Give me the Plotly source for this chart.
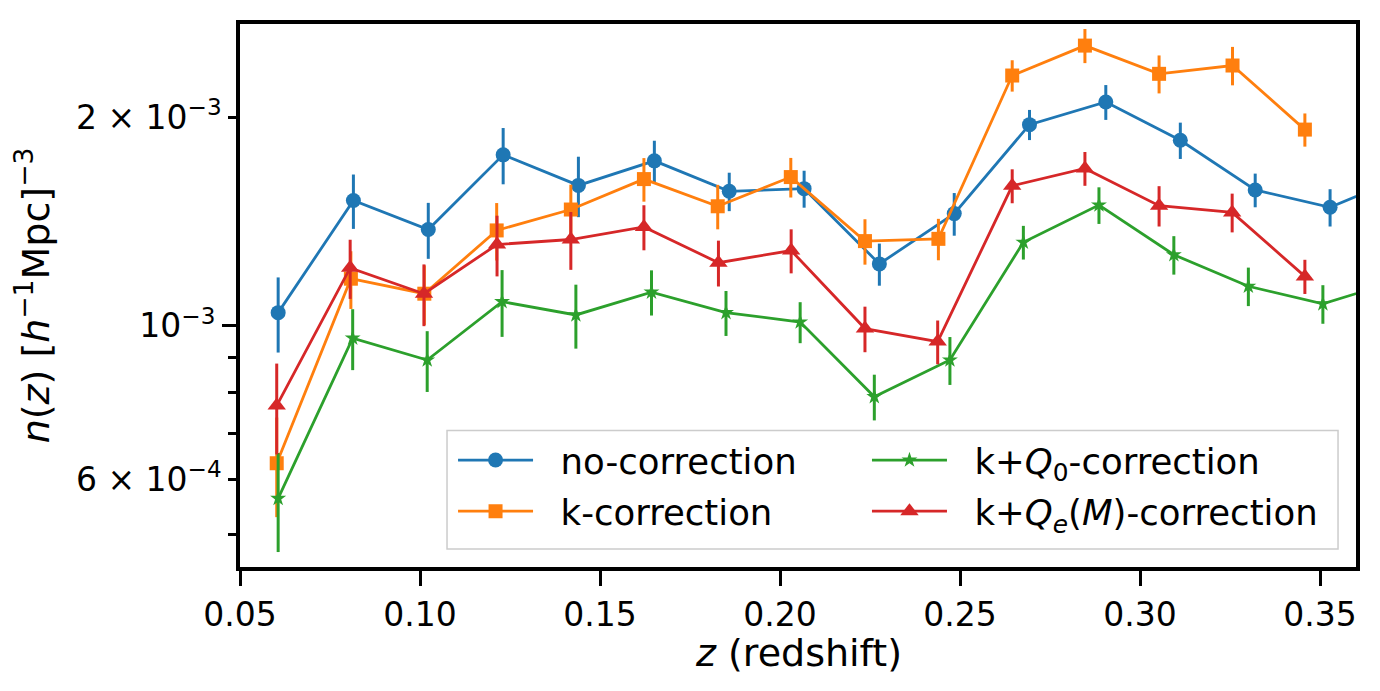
import plotly.graph_objects as go

# ---------------------------------------------------------------------------
# Data: redshift bin centres, n(z) and 1-sigma errors
# ---------------------------------------------------------------------------
z_none = [0.0606, 0.0815, 0.1023, 0.1231, 0.1440, 0.1651, 0.1859, 0.2067,
          0.2276, 0.2484, 0.2693, 0.2905, 0.3112, 0.3320, 0.3528, 0.3736]
n_none = [1.045e-3, 1.518e-3, 1.378e-3, 1.767e-3, 1.596e-3, 1.732e-3, 1.565e-3, 1.579e-3,
          1.229e-3, 1.453e-3, 1.954e-3, 2.107e-3, 1.855e-3, 1.572e-3, 1.484e-3, 1.647e-3]
err_none = [0.130e-3, 0.137e-3, 0.128e-3, 0.165e-3, 0.160e-3, 0.120e-3, 0.100e-3, 0.097e-3,
            0.086e-3, 0.103e-3, 0.098e-3, 0.122e-3, 0.112e-3, 0.088e-3, 0.092e-3, 0.090e-3]

z_k = [0.0602, 0.0808, 0.1012, 0.1213, 0.1419, 0.1622, 0.1827, 0.2030,
       0.2236, 0.2440, 0.2645, 0.2847, 0.3053, 0.3257, 0.3458]
n_k = [0.633e-3, 1.170e-3, 1.113e-3, 1.374e-3, 1.473e-3, 1.630e-3, 1.489e-3, 1.641e-3,
       1.326e-3, 1.336e-3, 2.301e-3, 2.542e-3, 2.314e-3, 2.379e-3, 1.922e-3]
err_k = [0.104e-3, 0.112e-3, 0.110e-3, 0.131e-3, 0.127e-3, 0.118e-3, 0.110e-3, 0.108e-3,
         0.100e-3, 0.092e-3, 0.120e-3, 0.144e-3, 0.146e-3, 0.152e-3, 0.106e-3]

z_kq0 = [0.0606, 0.0813, 0.1020, 0.1228, 0.1433, 0.1643, 0.1850, 0.2056,
         0.2262, 0.2472, 0.2676, 0.2886, 0.3094, 0.3301, 0.3508, 0.3715]
n_kq0 = [0.563e-3, 0.960e-3, 0.8925e-3, 1.084e-3, 1.037e-3, 1.119e-3, 1.045e-3, 1.013e-3,
         0.790e-3, 0.8925e-3, 1.321e-3, 1.495e-3, 1.267e-3, 1.141e-3, 1.076e-3, 1.162e-3]
err_kq0 = [0.092e-3, 0.097e-3, 0.090e-3, 0.120e-3, 0.110e-3, 0.084e-3, 0.078e-3, 0.069e-3,
           0.060e-3, 0.071e-3, 0.074e-3, 0.091e-3, 0.081e-3, 0.073e-3, 0.069e-3, 0.070e-3]

z_kqe = [0.0602, 0.0806, 0.1011, 0.1214, 0.1419, 0.1622, 0.1829, 0.2031,
         0.2236, 0.2438, 0.2645, 0.2847, 0.3053, 0.3256, 0.3458]
n_kqe = [0.767e-3, 1.213e-3, 1.113e-3, 1.311e-3, 1.333e-3, 1.390e-3, 1.234e-3, 1.285e-3,
         0.991e-3, 0.949e-3, 1.594e-3, 1.689e-3, 1.492e-3, 1.459e-3, 1.179e-3]
err_kqe = [0.115e-3, 0.119e-3, 0.114e-3, 0.132e-3, 0.128e-3, 0.104e-3, 0.094e-3, 0.094e-3,
           0.075e-3, 0.069e-3, 0.090e-3, 0.095e-3, 0.100e-3, 0.094e-3, 0.067e-3]

x_ticks = [0.05, 0.10, 0.15, 0.20, 0.25, 0.30, 0.35]
y_short_ticks = [5e-4, 6e-4, 7e-4, 8e-4, 9e-4, 2e-3]
y_short_text = ["", "6 × 10<sup>−4</sup>", "", "", "", "2 × 10<sup>−3</sup>"]
y_long_ticks = [1e-3]
y_long_text = ["10<sup>−3</sup>"]

FONT = "DejaVu Sans"
Y_RANGE = [-3.3486, -2.5636]
PAD = "\u00a0\u00a0"  # gap between legend handle and label

series = [
    # (name, z, n, err, colour, marker, size, legend)
    ("no-correction", z_none, n_none, err_none, "#1f77b4", "circle", 15, "legend"),
    ("k-correction", z_k, n_k, err_k, "#ff7f0e", "square", 14, "legend"),
    ("k+<i>Q</i><sub>0</sub>-correction", z_kq0, n_kq0, err_kq0, "#2ca02c", "star", 12, "legend2"),
    ("k+<i>Q</i><sub><i>e</i></sub>(<i>M</i>)-correction", z_kqe, n_kqe, err_kqe,
     "#d62728", "triangle-up", 16, "legend2"),
]

fig = go.Figure()

for name, z, n, err, colour, symbol, size, leg in series:
    fig.add_trace(
        go.Scatter(
            x=z,
            y=n,
            mode="lines+markers",
            name=PAD + name,
            legend=leg,
            legendgroup=name,
            line=dict(color=colour, width=2.8),
            marker=dict(symbol=symbol, size=size, color=colour, line=dict(width=0)),
            error_y=dict(type="data", array=err, visible=True,
                         color=colour, thickness=3, width=0),
        )
    )

# empty trace so the overlaid axis (long 10^-3 tick) gets drawn
fig.add_trace(go.Scatter(x=[], y=[], yaxis="y2", showlegend=False, hoverinfo="skip"))

legend_common = dict(
    orientation="v",
    y=0.2514,
    xanchor="left",
    yanchor="top",
    itemwidth=75,
    tracegroupgap=2,
    font=dict(family=FONT, size=35.5, color="black"),
    bgcolor="rgba(0,0,0,0)",
    borderwidth=0,
)

fig.update_layout(
    width=1372,
    height=683,
    margin=dict(l=232, r=24, t=14, b=124),
    paper_bgcolor="white",
    plot_bgcolor="white",
    font=dict(family=FONT, size=33, color="black"),
    showlegend=True,
    legend=dict(x=0.1909, **legend_common),
    legend2=dict(x=0.5618, **legend_common),
    shapes=[
        dict(
            type="rect", xref="paper", yref="paper",
            x0=0.1855, x1=0.9839, y0=0.033, y1=0.2514,
            line=dict(color="#cccccc", width=1.5),
            fillcolor="rgba(255,255,255,0.8)",
            layer="below",
        )
    ],
    annotations=[
        dict(
            text="<i>z</i> (redshift)", xref="paper", yref="paper",
            x=0.5, y=-0.158, xanchor="center", yanchor="middle",
            showarrow=False, font=dict(family=FONT, size=38),
        )
    ],
    xaxis=dict(
        range=[0.05, 0.36],
        tickmode="array",
        tickvals=x_ticks,
        tickformat=".2f",
        ticks="outside",
        ticklen=15,
        tickwidth=3,
        tickcolor="black",
        ticklabelstandoff=1,
        showline=True,
        linewidth=3.6,
        linecolor="black",
        mirror=True,
        showgrid=False,
        zeroline=False,
        tickfont=dict(family=FONT, size=33),
    ),
    yaxis=dict(
        type="log",
        range=Y_RANGE,
        tickmode="array",
        tickvals=y_short_ticks,
        ticktext=y_short_text,
        ticks="outside",
        ticklen=8,
        tickwidth=3,
        tickcolor="black",
        showline=True,
        linewidth=3.6,
        linecolor="black",
        mirror=True,
        showgrid=False,
        zeroline=False,
        tickfont=dict(family=FONT, size=33),
        title=dict(
            text="<i>n</i>(<i>z</i>) [<i>h</i><sup>−1</sup>Mpc]<sup>−3</sup>",
            font=dict(family=FONT, size=38),
            standoff=16,
        ),
    ),
    yaxis2=dict(
        type="log",
        overlaying="y",
        side="left",
        anchor="x",
        range=Y_RANGE,
        tickmode="array",
        tickvals=y_long_ticks,
        ticktext=y_long_text,
        ticks="outside",
        ticklen=17,
        tickwidth=3,
        tickcolor="black",
        showline=False,
        showgrid=False,
        zeroline=False,
        tickfont=dict(family=FONT, size=33),
    ),
)

fig.write_html("out.html")
